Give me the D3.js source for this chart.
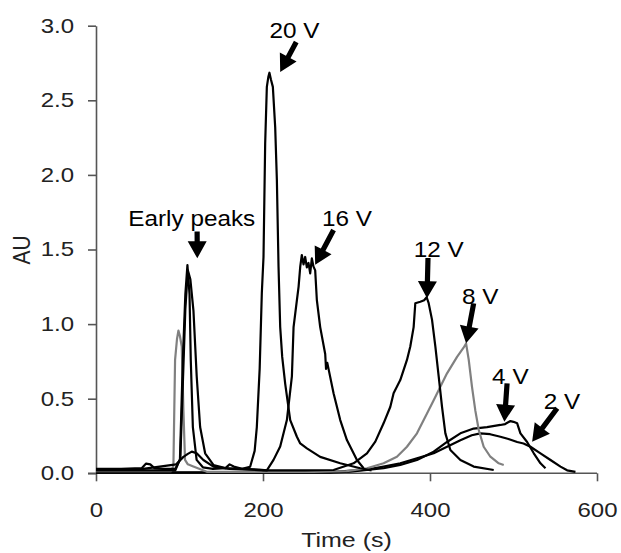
<!DOCTYPE html>
<html><head><meta charset="utf-8">
<script src="https://cdn.jsdelivr.net/npm/d3@7"></script>
<style>body{margin:0;background:#fff}svg{display:block}</style>
</head><body>
<svg id="c" width="621" height="553"></svg>
<script>
// ---- data ----
const xTicks = [0, 200, 400, 600];
const yTicks = [0, 0.5, 1.0, 1.5, 2.0, 2.5, 3.0];

const t20 = [0, 30, 55, 60, 65, 70, 80, 95, 100.5, 104, 107, 109.5, 112, 113.5, 116, 120.5, 128, 140, 155, 160, 165, 175, 184.6, 190, 192.6, 196, 198.6, 200.6, 202.6, 204.6, 206.5, 207.7, 209.5, 211.8, 214.6, 216.6, 218.6, 220.6, 223, 226.6, 232.6, 240.6, 244.6, 252.6, 268.5, 292.5, 316.5, 330];
const v20 = [0.03, 0.03, 0.035, 0.065, 0.06, 0.035, 0.03, 0.03, 0.09, 0.76, 1.2, 1.396, 1.2, 0.76, 0.31, 0.09, 0.04, 0.03, 0.035, 0.06, 0.045, 0.03, 0.044, 0.15, 0.31, 0.7, 1.21, 1.45, 2.21, 2.59, 2.66, 2.685, 2.64, 2.59, 2.32, 1.97, 1.385, 0.98, 0.78, 0.60, 0.357, 0.245, 0.20, 0.167, 0.11, 0.067, 0.034, 0.02];

const t16 = [0, 60, 95, 101, 104, 107, 110, 113, 116.7, 120.6, 124.7, 130.7, 140.6, 155, 175, 195, 204.6, 212.6, 220.6, 228.6, 234.6, 236.6, 240.6, 242.6, 244.6, 246.5, 248.5, 250.5, 252.5, 254.5, 256.5, 258.5, 260.5, 262.5, 264.5, 268.5, 274.5, 275.5, 277, 284.5, 292.5, 300.5, 312.5, 320.5];
const v16 = [0.02, 0.02, 0.02, 0.1, 0.6, 1.1, 1.36, 1.3, 1.09, 0.65, 0.31, 0.134, 0.056, 0.035, 0.03, 0.025, 0.02, 0.09, 0.18, 0.357, 0.65, 0.98, 1.16, 1.25, 1.385, 1.463, 1.40, 1.45, 1.38, 1.41, 1.34, 1.44, 1.385, 1.36, 1.16, 0.98, 0.80, 0.70, 0.74, 0.536, 0.357, 0.223, 0.089, 0.034];

const t12 = [0, 50, 96, 104.7, 110, 114.7, 120.6, 128.6, 140.6, 160, 200, 250, 284.5, 308.5, 324.5, 334.5, 344.4, 352.5, 356.4, 364.4, 372.4, 376.4, 380.4, 382.4, 388.4, 393, 396, 398.4, 402.4, 406.4, 410.4, 414.4, 418.4, 424.4, 436.4, 452.3, 476.3];
const v12 = [0.025, 0.025, 0.06, 0.11, 0.13, 0.145, 0.134, 0.089, 0.045, 0.03, 0.02, 0.02, 0.022, 0.067, 0.134, 0.212, 0.335, 0.446, 0.536, 0.625, 0.76, 0.85, 0.98, 1.14, 1.15, 1.16, 1.18, 1.14, 1.03, 0.85, 0.65, 0.446, 0.268, 0.156, 0.089, 0.045, 0.022];

const t8 = [0, 60, 90, 92.7, 94.7, 97, 98.7, 100.5, 102.7, 104.7, 106.6, 110, 116.6, 132.7, 160, 200, 260, 300, 324.5, 344.4, 360.4, 372.4, 384.4, 396.4, 404.4, 412.4, 420.4, 432.4, 440, 443.2, 446.4, 450.3, 454.3, 458.4, 464.3, 472.3, 482.3, 488.3];
const v8 = [0.015, 0.015, 0.015, 0.05, 0.76, 0.90, 0.956, 0.92, 0.85, 0.42, 0.09, 0.06, 0.045, 0.01, 0.01, 0.01, 0.01, 0.015, 0.034, 0.067, 0.111, 0.178, 0.268, 0.40, 0.49, 0.58, 0.67, 0.78, 0.84, 0.87, 0.76, 0.58, 0.42, 0.29, 0.178, 0.111, 0.067, 0.056];

const t4 = [0, 280, 304.5, 344.4, 364.4, 384.4, 404.4, 420.4, 436.4, 452.3, 468.3, 484.3, 490, 496.3, 500, 504.4, 508.3, 516.3, 524.3, 532.3, 538.3];
const v4 = [0.005, 0.005, 0.011, 0.034, 0.056, 0.089, 0.145, 0.21, 0.268, 0.30, 0.31, 0.324, 0.33, 0.35, 0.345, 0.335, 0.268, 0.21, 0.134, 0.067, 0.034];

const t2 = [0, 280, 324.5, 344.4, 364.4, 384.4, 404.4, 420.4, 436.4, 450, 460.3, 472, 484.3, 494, 504.4, 512, 520.3, 532.3, 544.3, 556.3, 564.2, 574.2];
const v2 = [0.005, 0.008, 0.025, 0.045, 0.067, 0.1, 0.134, 0.178, 0.222, 0.255, 0.268, 0.262, 0.245, 0.23, 0.21, 0.2, 0.178, 0.134, 0.089, 0.045, 0.02, 0.01];

const seriesNames = ["2 V", "4 V", "8 V", "12 V", "16 V", "20 V"];
const seriesT = [t2, t4, t8, t12, t16, t20];
const seriesV = [v2, v4, v8, v12, v16, v20];
const seriesColor = ["#000", "#000", "#808080", "#000", "#000", "#000"];

// annotations (data space)
const labelText = ["Early peaks", "20 V", "16 V", "12 V", "8 V", "4 V", "2 V"];
const labelT = [38.7, 207.8, 270.6, 380.4, 438.4, 474.4, 536.3];
const labelV = [1.657, 2.920, 1.658, 1.450, 1.135, 0.599, 0.431];
const arrowFromT = [121.1, 239.8, 284.5, 397.6, 452.3, 492.3, 552.3];
const arrowFromV = [1.621, 2.891, 1.631, 1.443, 1.139, 0.603, 0.436];
const arrowToT = [121.3, 220.6, 262.5, 396.4, 443.2, 489.1, 522.3];
const arrowToV = [1.441, 2.690, 1.397, 1.173, 0.871, 0.346, 0.212];

// ---- drawing ----
const svg = d3.select("#c");
const x = d3.scaleLinear().domain([0, 600]).range([96, 597]);
const y = d3.scaleLinear().domain([0, 3]).range([473.3, 25.7]);
const FONT = "'Liberation Sans', Arial, sans-serif";
const AX = "#555";

// axes
const gx = svg.append("g").attr("transform", `translate(0,${y(0)})`)
  .call(d3.axisBottom(x).tickValues(xTicks).tickSize(8).tickSizeOuter(0).tickPadding(21).tickFormat(d3.format("d")));
const gy = svg.append("g").attr("transform", `translate(${x(0)},0)`)
  .call(d3.axisLeft(y).tickValues(yTicks).tickSize(8).tickSizeOuter(0).tickPadding(14).tickFormat(d3.format(".1f")));
[gx, gy].forEach(g => {
  g.select(".domain").attr("stroke", AX).attr("stroke-width", 1.6);
  g.selectAll(".tick line").attr("stroke", AX).attr("stroke-width", 1.6);
  g.selectAll(".tick text").attr("fill", "#222").attr("font-family", FONT).attr("font-size", 20);
});
gx.select(".domain").attr("d", `M${x(0) - 8},0H${x(600)}`);
gx.selectAll(".tick text").each(function () {
  const t = d3.select(this); const yy = +t.attr("y");
  t.attr("y", 0).attr("transform", `translate(0,${yy}) scale(1.2,1)`);
});
gy.selectAll(".tick text").each(function () {
  const t = d3.select(this); const xx = +t.attr("x");
  t.attr("x", 0).attr("transform", `translate(${xx},0) scale(1.2,1)`);
});

// axis titles
svg.append("text").attr("transform", `translate(346.5,546.5) scale(1.25,1)`)
  .attr("text-anchor", "middle").attr("font-family", FONT).attr("font-size", 20).attr("fill", "#222").text("Time (s)");
svg.append("text").attr("transform", `translate(29.5,250) scale(1.1,1) rotate(-90)`)
  .attr("text-anchor", "middle").attr("font-family", FONT).attr("font-size", 21).attr("fill", "#222").text("AU");

// series
const line = d3.line().x(d => x(d[0])).y(d => y(d[1]));
seriesNames.forEach((n, i) => {
  const pts = seriesT[i].map((t, k) => [t, seriesV[i][k]]);
  svg.append("path").datum(pts).attr("d", line)
    .attr("fill", "none").attr("stroke", seriesColor[i]).attr("stroke-width", 2.2)
    .attr("stroke-linejoin", "round");
});

// annotation labels
labelText.forEach((s, i) => {
  svg.append("text").attr("transform", `translate(${x(labelT[i])},${y(labelV[i])}) scale(1.08,1)`)
    .attr("font-family", FONT).attr("font-size", 22.5).attr("fill", "#000").text(s);
});

// arrows
function arrowPath(x1, y1, x2, y2) {
  const dx = x2 - x1, dy = y2 - y1, L = Math.hypot(dx, dy);
  const ux = dx / L, uy = dy / L, px = -uy, py = ux;
  const hl = 17, hw = 9.5, sw = 2.6;
  const bx = x2 - ux * hl, by = y2 - uy * hl;
  const p = [
    [x1 + px * sw, y1 + py * sw], [bx + px * sw, by + py * sw], [bx + px * hw, by + py * hw],
    [x2, y2], [bx - px * hw, by - py * hw], [bx - px * sw, by - py * sw], [x1 - px * sw, y1 - py * sw]
  ];
  return "M" + p.map(q => q.join(",")).join("L") + "Z";
}
arrowFromT.forEach((_, i) => {
  svg.append("path")
    .attr("d", arrowPath(x(arrowFromT[i]), y(arrowFromV[i]), x(arrowToT[i]), y(arrowToV[i])))
    .attr("fill", "#000");
});
</script>
</body></html>
